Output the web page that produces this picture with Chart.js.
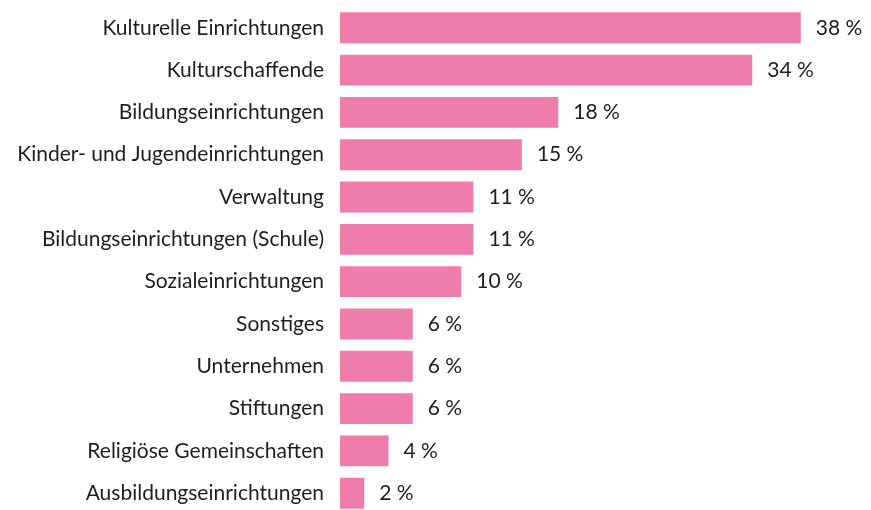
<!DOCTYPE html>
<html>
<head>
<meta charset="utf-8">
<script src="https://cdn.jsdelivr.net/npm/chart.js@4"></script>
<style>
  html, body { margin: 0; padding: 0; background: #fff; overflow: hidden; }
  #wrap { position: relative; width: 871px; height: 565px; margin-top: -22px; }
</style>
</head>
<body>
<div id="wrap"><canvas id="myChart"></canvas></div>
<script>
// Data
const categories = [
  'Kulturelle Einrichtungen',
  'Kulturschaffende',
  'Bildungseinrichtungen',
  'Kinder- und Jugendeinrichtungen',
  'Verwaltung',
  'Bildungseinrichtungen (Schule)',
  'Sozialeinrichtungen',
  'Sonstiges',
  'Unternehmen',
  'Stiftungen',
  'Religiöse Gemeinschaften',
  'Ausbildungseinrichtungen'
];
const values = [38, 34, 18, 15, 11, 11, 10, 6, 6, 6, 4, 2];

// value labels at the end of each bar
const valueLabels = {
  id: 'valueLabels',
  afterDatasetsDraw(chart) {
    const ctx = chart.ctx;
    const meta = chart.getDatasetMeta(0);
    ctx.save();
    ctx.font = '21px Lato';
    ctx.fillStyle = '#1e1e1e';
    ctx.textAlign = 'left';
    ctx.textBaseline = 'middle';
    meta.data.forEach((bar, i) => {
      ctx.fillText(values[i] + ' %', bar.x + 15, bar.y);
    });
    ctx.restore();
  }
};

const ctx = document.getElementById('myChart').getContext('2d');
const myBarChart = new Chart(ctx, {
  type: 'bar',
  data: {
    labels: categories,
    datasets: [{
      data: values,
      backgroundColor: 'rgb(238, 124, 172)',
      borderWidth: 0,
      barPercentage: 0.73,
      categoryPercentage: 1
    }]
  },
  options: {
    indexAxis: 'y',
    responsive: true,
    maintainAspectRatio: false,
    animation: false,
    layout: { padding: { top: 6, bottom: 1, right: 46, left: 0 } },
    plugins: {
      legend: { display: false },
      tooltip: { enabled: false }
    },
    scales: {
      x: {
        display: false,
        min: 0,
        max: 40
      },
      y: {
        grid: { display: false, drawTicks: false },
        border: { display: false },
        ticks: {
          color: '#1e1e1e',
          padding: 16,
          font: { family: 'Lato', size: 21 }
        },
        afterFit(scale) { scale.width = 340; }
      }
    }
  },
  plugins: [valueLabels]
});
</script>
</body>
</html>
